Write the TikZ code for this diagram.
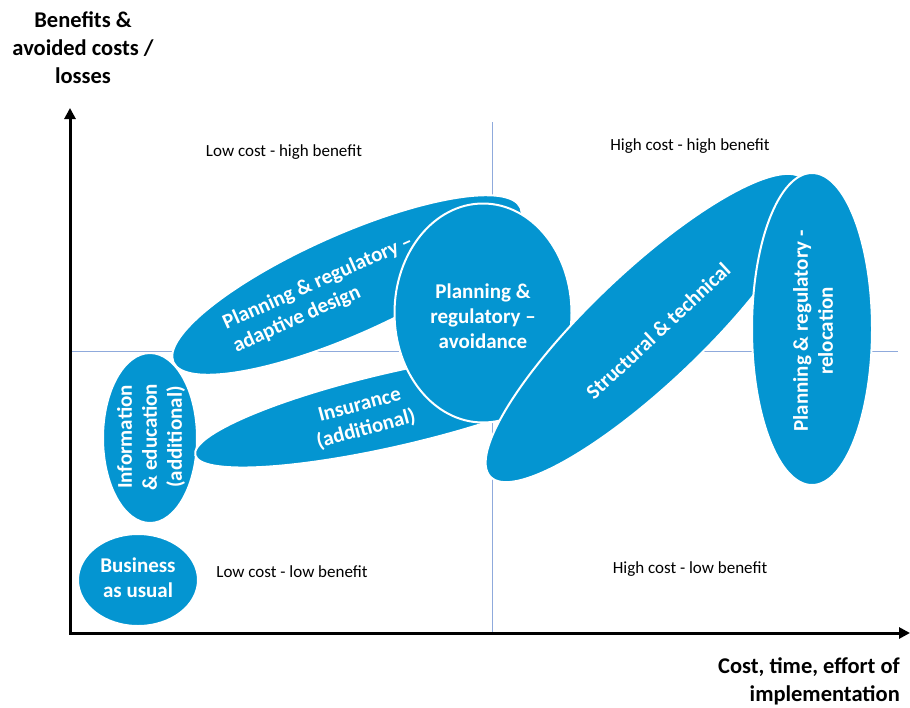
\documentclass[tikz,border=0pt]{standalone}
\usepackage{fontspec}
\setmainfont{Carlito}
\usetikzlibrary{arrows.meta,shapes.geometric}
\definecolor{blobblue}{RGB}{4,149,209}
\definecolor{quadline}{RGB}{143,170,220}
\begin{document}
\begin{tikzpicture}[x=1pt,y=-1pt,
  blob/.style={ellipse,fill=blobblue,draw=white,line width=2pt,inner sep=0pt},
  blobtext/.style={text=white,font=\fontsize{21}{25}\selectfont\bfseries,align=center,inner sep=0pt},
  quadtext/.style={font=\fontsize{17}{20}\selectfont,inner sep=0pt},
  axistext/.style={font=\fontsize{22.5}{28}\selectfont\bfseries,inner sep=0pt},
  axisline/.style={line width=3pt,line join=miter,{Triangle[length=11pt,width=11pt]}-{Triangle[length=11pt,width=11pt]}},
  quad/.style={draw=quadline,line width=1pt}]
\useasboundingbox (0,0) rectangle (910,707);
% quadrant lines
\coordinate (vtop) at (492,122);
\coordinate (vbot) at (492,633);
\coordinate (hleft) at (70,351);
\coordinate (hright) at (898,351);
\draw[quad] (vtop) -- (vbot);
\draw[quad] (hleft) -- (hright);
% axes
\coordinate (O) at (70,633);
\coordinate (ytip) at (70,108);
\coordinate (xtip) at (910,633);
\draw[axisline] (ytip) -- (O) -- (xtip);
% axis labels
\node[axistext,align=center] (ylab) at (83,48) {Benefits \&\\avoided costs /\\losses};
\node[axistext,align=right,anchor=east] (xlab) at (900,681) {Cost, time, effort of\\implementation};
% quadrant labels
\node[quadtext] (q1) at (284,152) {Low cost - high benefit};
\node[quadtext] (q2) at (690,146) {High cost - high benefit};
\node[quadtext] (q3) at (292,572) {Low cost - low benefit};
\node[quadtext] (q4) at (690,569) {High cost - low benefit};
% ellipses
\node[blob,minimum width=120pt,minimum height=92pt] (bau) at (138,580) {};
\node[blob,minimum width=94pt,minimum height=170pt] (info) at (150,438) {};
\node[blob,minimum width=380pt,minimum height=100pt,rotate=24] (adapt) at (347,285) {};
\node[blob,minimum width=410pt,minimum height=74pt,rotate=13] (ins) at (395,409) {};
\node[blob,minimum width=177pt,minimum height=219pt] (avoid) at (483,313) {};
\node[blob,minimum width=432pt,minimum height=112pt,rotate=43.5] (struct) at (647,328) {};
\node[blob,minimum width=120pt,minimum height=312pt] (reloc) at (812,329) {};
% ellipse texts
\node[blobtext] (baut) at (138,578) {Business\\as usual};
\node[blobtext,rotate=90] (infot) at (151,437) {Information\\\& education\\(additional)};
\node[blobtext,rotate=24,align=left] (adaptt) at (323,294) {Planning \& regulatory –\\adaptive design};
\node[blobtext,rotate=15] (inst) at (363,418) {Insurance\\(additional)};
\node[blobtext] (avoidt) at (483,316) {Planning \&\\regulatory –\\avoidance};
\node[blobtext,rotate=43] (structt) at (658,331) {Structural \& technical};
\node[blobtext,rotate=90] (reloct) at (813,331) {Planning \& regulatory -\\relocation};
\end{tikzpicture}
\end{document}
